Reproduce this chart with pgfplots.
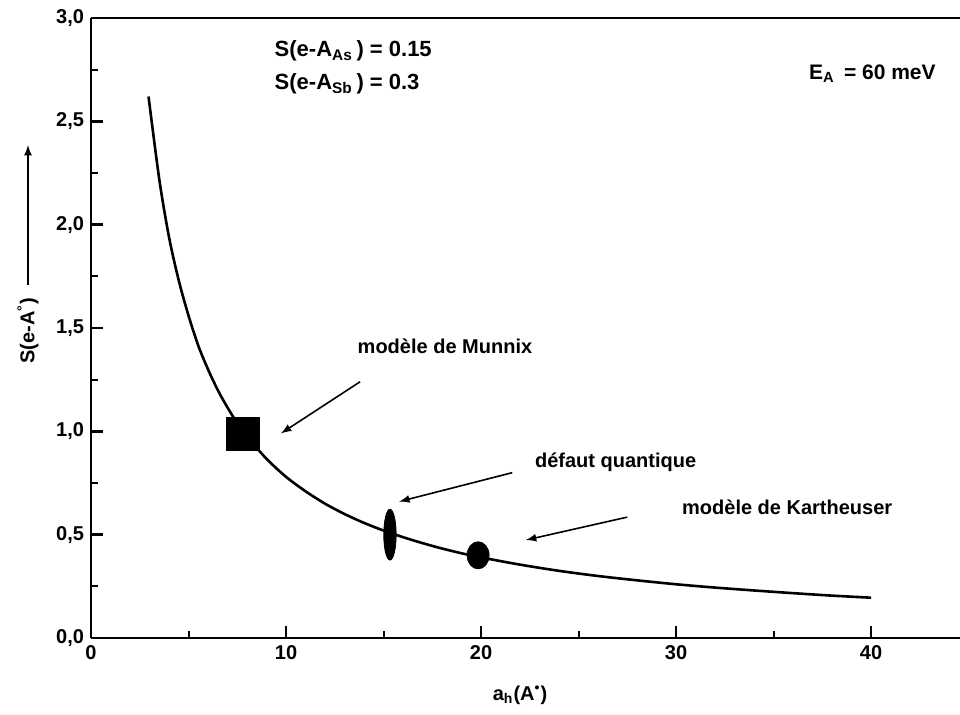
\documentclass[border=0pt]{standalone}
\usepackage{pgfplots}
\pgfplotsset{compat=1.18}
\usepackage{fontspec}
\setmainfont{Liberation Sans}
\begin{document}
\begin{tikzpicture}
\begin{axis}[
  scale only axis, width=434.5pt, height=310pt,
  at={(0,0)}, anchor=south west,
  xmin=0, xmax=44.56, ymin=0, ymax=3,
  axis x line*=box, axis y line*=left,
  axis line style={line width=1.4pt},
  tick pos=left, tick align=inside,
  xtick={0,10,20,30,40}, minor xtick={5,15,25,35},
  ytick={0,0.5,1,1.5,2,2.5,3},
  yticklabels={{0,0},{0,5},{1,0},{1,5},{2,0},{2,5},{3,0}},
  minor ytick={0.25,0.75,1.25,1.75,2.25,2.75},
  major tick length=6pt, minor tick length=3.5pt,
  major tick style={line width=1.2pt, black},
  minor tick style={line width=1pt, black},
  ticklabel style={font=\fontsize{10}{12}\selectfont\bfseries},
  /pgf/number format/assume math mode=true,
  clip=false,
]
\addplot[line width=1.3pt, smooth] coordinates {
 (2.95,2.62) (3.5,2.22) (4,1.94) (4.5,1.73) (5,1.56) (5.5,1.415) (6,1.3)
 (6.5,1.2) (7,1.115) (7.5,1.04) (8,0.975) (9,0.867) (10,0.78) (11,0.71)
 (12,0.65) (13,0.6) (14,0.557) (15,0.52) (16,0.488) (17,0.459) (18,0.433)
 (19,0.41) (20,0.39) (22,0.355) (24,0.325) (26,0.3) (28,0.279) (30,0.26)
 (32,0.244) (34,0.23) (36,0.217) (38,0.205) (40,0.195)
};
\addplot[only marks, mark=square*, mark size=8.2pt, black] coordinates {(7.77,0.987)};
\addplot[only marks, mark=*, mark size=3.1pt, black, mark options={yscale=4.1}] coordinates {(15.33,0.5)};
\addplot[only marks, mark=*, mark size=5.5pt, black, mark options={yscale=1.23}] coordinates {(19.85,0.4)};

\draw[-latex, line width=0.8pt] (axis cs:13.8,1.24) -- (axis cs:9.74,0.99);
\draw[-latex, line width=0.8pt] (axis cs:21.6,0.80) -- (axis cs:15.8,0.66);
\draw[-latex, line width=0.8pt] (axis cs:27.5,0.585) -- (axis cs:22.3,0.474);

\node[font=\fontsize{10}{12}\selectfont\bfseries] at (axis cs:18.15,1.41) {modèle de Munnix};
\node[font=\fontsize{10}{12}\selectfont\bfseries] at (axis cs:26.9,0.85) {défaut quantique};
\node[font=\fontsize{10}{12}\selectfont\bfseries] at (axis cs:35.7,0.635) {modèle de Kartheuser};

\node[anchor=west, font=\fontsize{11}{13}\selectfont\bfseries, inner sep=0pt] at (axis cs:9.4,2.84) {S(e-A\textsubscript{As}\,) = 0.15};
\node[anchor=west, font=\fontsize{11}{13}\selectfont\bfseries, inner sep=0pt] at (axis cs:9.4,2.68) {S(e-A\textsubscript{Sb}\,) = 0.3};
\node[anchor=west, font=\fontsize{10.5}{13}\selectfont\bfseries, inner sep=0pt] at (axis cs:36.8,2.73) {E\textsubscript{A} \,= 60 meV};
\end{axis}
\node[rotate=90, font=\fontsize{10}{12}\selectfont\bfseries] at (-31.5pt,153.5pt) {S(e-A\textsuperscript{°})};
\draw[-latex, line width=0.8pt] (-31.5pt,176.5pt) -- (-31.5pt,246.5pt);
\node[font=\fontsize{10}{12}\selectfont\bfseries] at (214.5pt,-28.5pt) {a\textsubscript{h}(A\textsuperscript{•})};
\pgfresetboundingbox
\path[use as bounding box] (-45.5pt,-38pt) rectangle (434.5pt,319pt);
\end{tikzpicture}
\end{document}
